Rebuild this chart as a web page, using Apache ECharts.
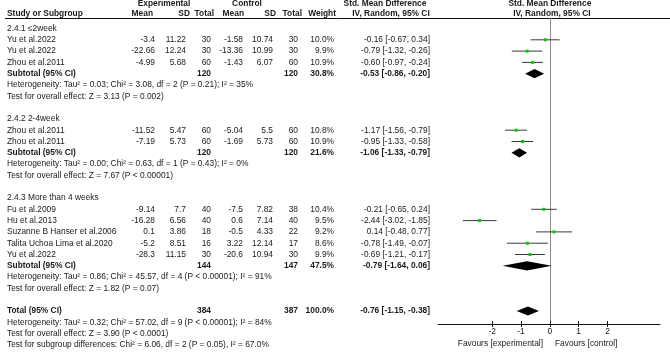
<!DOCTYPE html>
<html>
<head>
<meta charset="utf-8">
<script src="https://cdn.jsdelivr.net/npm/echarts@6/dist/echarts.min.js"></script>
<style>
    html, body { margin: 0; padding: 0; background: #fff; }
    #main { width: 670px; height: 356px; }
</style>
</head>
<body>
<div id="main"></div>
<script>
// 森林图数据
const groupTitles = ['2.4.1 ≤2week', '2.4.2 2-4week', '2.4.3 More than 4 weeks'];
const groupSizes = [3, 2, 5];

const studyNames = ['Yu et al.2022', 'Yu et al.2022', 'Zhou et al.2011', 'Zhou et al.2011', 'Zhou et al.2011',
    'Fu et al.2009', 'Hu et al.2013', 'Suzanne B Hanser et al.2006', 'Talita Uchoa Lima et al.2020', 'Yu et al.2022'];
const expMean = [-3.4, -22.66, -4.99, -11.52, -7.19, -9.14, -16.28, 0.1, -5.2, -28.3];
const expSD = [11.22, 12.24, 5.68, 5.47, 5.73, 7.7, 6.56, 3.86, 8.51, 11.15];
const expN = [30, 30, 60, 60, 60, 40, 40, 18, 16, 30];
const ctlMean = [-1.58, -13.36, -1.43, -5.04, -1.69, -7.5, 0.6, -0.5, 3.22, -20.6];
const ctlSD = [10.74, 10.99, 6.07, 5.5, 5.73, 7.82, 7.14, 4.33, 12.14, 10.94];
const ctlN = [30, 30, 60, 60, 60, 38, 40, 22, 17, 30];
const weights = [10.0, 9.9, 10.9, 10.8, 10.9, 10.4, 9.5, 9.2, 8.6, 9.9];
const smd = [-0.16, -0.79, -0.60, -1.17, -0.95, -0.21, -2.44, 0.14, -0.78, -0.69];
const ciLow = [-0.67, -1.32, -0.97, -1.56, -1.33, -0.65, -3.02, -0.48, -1.49, -1.21];
const ciHigh = [0.34, -0.26, -0.24, -0.79, -0.58, 0.24, -1.85, 0.77, -0.07, -0.17];

const subExpN = [120, 120, 144];
const subCtlN = [120, 120, 147];
const subWeights = [30.8, 21.6, 47.5];
const subSmd = [-0.53, -1.06, -0.79];
const subLow = [-0.86, -1.33, -1.64];
const subHigh = [-0.20, -0.79, 0.06];
const subHeterogeneity = [
    'Heterogeneity: Tau² = 0.03; Chi² = 3.08, df = 2 (P = 0.21); I² = 35%',
    'Heterogeneity: Tau² = 0.00; Chi² = 0.63, df = 1 (P = 0.43); I² = 0%',
    'Heterogeneity: Tau² = 0.86; Chi² = 45.57, df = 4 (P < 0.00001); I² = 91%'
];
const subOverall = [
    'Test for overall effect: Z = 3.13 (P = 0.002)',
    'Test for overall effect: Z = 7.67 (P < 0.00001)',
    'Test for overall effect: Z = 1.82 (P = 0.07)'
];

const totalExpN = 384;
const totalCtlN = 387;
const totalWeight = 100.0;
const totalSmd = -0.76;
const totalLow = -1.15;
const totalHigh = -0.38;
const totalNotes = [
    'Heterogeneity: Tau² = 0.32; Chi² = 57.02, df = 9 (P < 0.00001); I² = 84%',
    'Test for overall effect: Z = 3.90 (P < 0.0001)',
    'Test for subgroup differences: Chi² = 6.06, df = 2 (P = 0.05), I² = 67.0%'
];

const headerTop = ['Experimental', 'Control', 'Std. Mean Difference', 'Std. Mean Difference'];
const headerCols = ['Study or Subgroup', 'Mean', 'SD', 'Total', 'Mean', 'SD', 'Total', 'Weight', 'IV, Random, 95% CI', 'IV, Random, 95% CI'];
const xTicks = [-2, -1, 0, 1, 2];
const favourLabels = ['Favours [experimental]', 'Favours [control]'];

// 布局
const FONT = 'Liberation Sans, Arial, sans-serif';
const FS = '8.4px ';
const TEXT = '#1a1a1a';
const colRight = [155, 186, 211, 243, 273, 298, 334, 430];
const headRight = [153, 190, 214, 244, 276, 302, 336];

// 逐行构建表格
const rows = [];
let r = 0, s = 0;
groupTitles.forEach((title, g) => {
    rows.push({ kind: 'note', row: r++, text: title });
    for (let k = 0; k < groupSizes[g]; k++) rows.push({ kind: 'study', row: r++, i: s++ });
    rows.push({ kind: 'sub', row: r++, g: g });
    rows.push({ kind: 'note', row: r++, text: subHeterogeneity[g] });
    rows.push({ kind: 'note', row: r++, text: subOverall[g] });
    r++;
});
rows.push({ kind: 'total', row: r++ });
totalNotes.forEach(t => rows.push({ kind: 'note', row: r++, text: t }));
rows.push({ kind: 'head1', row: -2.17 });
rows.push({ kind: 'head2', row: -1.3 });

const ci = (m, lo, hi) => m.toFixed(2) + ' [' + lo.toFixed(2) + ', ' + hi.toFixed(2) + ']';

function txt(x, y, text, align, bold) {
    return {
        type: 'text', x: x, y: y,
        style: {
            text: text, fill: TEXT, align: align || 'left', verticalAlign: 'middle',
            font: (bold ? 'bold ' : '') + FS + FONT
        }
    };
}

function renderTable(params, api) {
    const row = rows[params.dataIndex];
    const y = api.coord([0, row.row])[1];
    const c = [];
    if (row.kind === 'note') {
        c.push(txt(7, y, row.text));
    } else if (row.kind === 'study') {
        const i = row.i;
        const vals = [String(expMean[i]), String(expSD[i]), String(expN[i]), String(ctlMean[i]),
            String(ctlSD[i]), String(ctlN[i]), weights[i].toFixed(1) + '%', ci(smd[i], ciLow[i], ciHigh[i])];
        c.push(txt(7, y, studyNames[row.i]));
        vals.forEach((v, k) => c.push(txt(colRight[k], y, v, 'right')));
    } else if (row.kind === 'sub') {
        const g = row.g;
        c.push(txt(7, y, 'Subtotal (95% CI)', 'left', true));
        c.push(txt(colRight[2], y, String(subExpN[g]), 'right', true));
        c.push(txt(colRight[5], y, String(subCtlN[g]), 'right', true));
        c.push(txt(colRight[6], y, subWeights[g].toFixed(1) + '%', 'right', true));
        c.push(txt(colRight[7], y, ci(subSmd[g], subLow[g], subHigh[g]), 'right', true));
    } else if (row.kind === 'total') {
        c.push(txt(7, y, 'Total (95% CI)', 'left', true));
        c.push(txt(colRight[2], y, String(totalExpN), 'right', true));
        c.push(txt(colRight[5], y, String(totalCtlN), 'right', true));
        c.push(txt(colRight[6], y, totalWeight.toFixed(1) + '%', 'right', true));
        c.push(txt(colRight[7], y, ci(totalSmd, totalLow, totalHigh), 'right', true));
    } else if (row.kind === 'head1') {
        c.push(txt(164, y, headerTop[0], 'center', true));
        c.push(txt(247, y, headerTop[1], 'center', true));
        c.push(txt(385, y, headerTop[2], 'center', true));
        c.push(txt(api.coord([0, 0])[0], y, headerTop[3], 'center', true));
    } else if (row.kind === 'head2') {
        c.push(txt(7, y, headerCols[0], 'left', true));
        headRight.forEach((x, k) => c.push(txt(x, y, headerCols[k + 1], 'right', true)));
        c.push(txt(391, y, headerCols[8], 'center', true));
        c.push(txt(api.coord([0, 0])[0] + 2, y, headerCols[9], 'center', true));
    }
    return { type: 'group', children: c };
}

// 研究点估计 + 置信区间
function renderStudy(params, api) {
    const row = api.value(1);
    const p = api.coord([api.value(0), row]);
    const a = api.coord([api.value(2), row]);
    const b = api.coord([api.value(3), row]);
    return {
        type: 'group',
        children: [
            { type: 'line', shape: { x1: a[0], y1: p[1], x2: b[0], y2: p[1] }, style: { stroke: '#3a3a3a', lineWidth: 1 } },
            { type: 'rect', shape: { x: p[0] - 1.5, y: p[1] - 1.5, width: 3, height: 3 }, style: { fill: '#00cc00' } }
        ]
    };
}

// 合并效应菱形
function renderDiamond(params, api) {
    const row = api.value(1);
    const p = api.coord([api.value(0), row]);
    const a = api.coord([api.value(2), row]);
    const b = api.coord([api.value(3), row]);
    const h = 4.6;
    return {
        type: 'polygon',
        shape: { points: [[a[0], p[1]], [p[0], p[1] - h], [b[0], p[1]], [p[0], p[1] + h]] },
        style: { fill: '#000' }
    };
}

const studyData = [];
const diamondData = [];
rows.forEach(row => {
    if (row.kind === 'study') studyData.push([smd[row.i], row.row, ciLow[row.i], ciHigh[row.i]]);
    if (row.kind === 'sub') diamondData.push([subSmd[row.g], row.row, subLow[row.g], subHigh[row.g]]);
    if (row.kind === 'total') diamondData.push([totalSmd, row.row, totalLow, totalHigh]);
});

const chart = echarts.init(document.getElementById('main'), null, { renderer: 'canvas' });

const gridBox = { left: 438, right: 10, top: 18, bottom: 32 };
const option = {
    animation: false,
    backgroundColor: '#fff',
    grid: [gridBox, Object.assign({}, gridBox)],
    xAxis: [{
        type: 'value', min: -3.88, max: 3.82,
        splitLine: { show: false },
        axisLine: { onZero: false, lineStyle: { color: '#111', width: 1 } },
        axisTick: { customValues: xTicks, length: 3, lineStyle: { color: '#111' } },
        axisLabel: { customValues: xTicks, color: TEXT, fontSize: 8.4, fontFamily: FONT, margin: 4 }
    }, {
        // 刻度向上的一半
        gridIndex: 1, type: 'value', min: -3.88, max: 3.82,
        splitLine: { show: false },
        axisLine: { show: false, onZero: false },
        axisTick: { customValues: xTicks, inside: true, length: 3, lineStyle: { color: '#111' } },
        axisLabel: { show: false }
    }],
    yAxis: [{
        type: 'value', inverse: true, min: -0.929, max: 26.15,
        splitLine: { show: false },
        axisLine: { show: true, onZero: true, lineStyle: { color: '#8a8a8a', width: 1 } },
        axisTick: { show: false },
        axisLabel: { show: false }
    }, {
        gridIndex: 1, type: 'value', show: false, min: 0, max: 1
    }],
    graphic: [
        { type: 'line', shape: { x1: 5, y1: 18.5, x2: 670, y2: 18.5 }, style: { stroke: '#111', lineWidth: 1 } },
        { type: 'text', x: 543, y: 344, style: { text: favourLabels[0], align: 'right', verticalAlign: 'middle', fill: TEXT, font: FS + FONT } },
        { type: 'text', x: 555, y: 344, style: { text: favourLabels[1], align: 'left', verticalAlign: 'middle', fill: TEXT, font: FS + FONT } }
    ],
    series: [
        {
            type: 'custom', clip: false, silent: true,
            renderItem: renderTable,
            encode: { x: 0, y: 1 },
            data: rows.map(row => [0, row.row])
        },
        {
            type: 'custom', clip: false, silent: true,
            renderItem: renderStudy,
            encode: { x: 0, y: 1 },
            data: studyData
        },
        {
            type: 'custom', clip: false, silent: true,
            renderItem: renderDiamond,
            encode: { x: 0, y: 1 },
            data: diamondData
        }
    ]
};

chart.setOption(option);
</script>
</body>
</html>
